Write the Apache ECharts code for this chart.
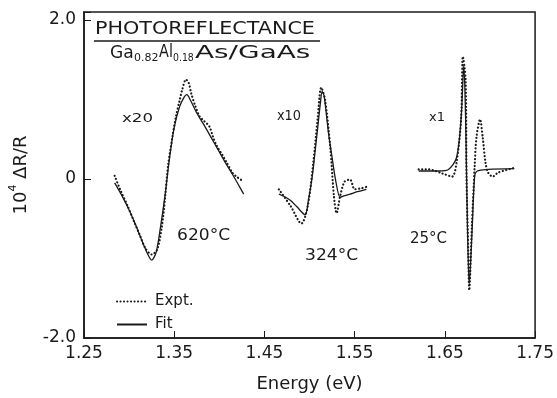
<!DOCTYPE html>
<html>
<head>
<meta charset="utf-8">
<script src="https://cdn.jsdelivr.net/npm/echarts@6/dist/echarts.min.js"></script>
<style>
  html, body { margin: 0; padding: 0; background: #fff; }
  #chart { width: 557px; height: 398px; }
</style>
</head>
<body>
<div id="chart"></div>
<script>
// 620°C (x20)
const fit620E = [1.284, 1.292, 1.300, 1.307, 1.314, 1.320, 1.325, 1.330, 1.335, 1.340, 1.345, 1.350, 1.356, 1.361, 1.364, 1.368, 1.375, 1.383, 1.391, 1.399, 1.407, 1.415, 1.421, 1.427]
const fit620Y = [-0.05, -0.21, -0.39, -0.57, -0.77, -0.93, -1.02, -0.92, -0.59, -0.19, 0.28, 0.65, 0.91, 1.03, 1.06, 0.99, 0.83, 0.68, 0.52, 0.36, 0.20, 0.05, -0.07, -0.19]
const exp620E = [1.284, 1.290, 1.298, 1.306, 1.312, 1.318, 1.325, 1.331, 1.336, 1.340, 1.343, 1.348, 1.352, 1.356, 1.359, 1.363, 1.366, 1.369, 1.373, 1.378, 1.383, 1.389, 1.393, 1.397, 1.403, 1.408, 1.415, 1.419, 1.424]
const exp620Y = [0.04, -0.13, -0.33, -0.55, -0.71, -0.87, -0.95, -0.89, -0.62, -0.22, 0.15, 0.53, 0.79, 0.99, 1.13, 1.25, 1.21, 1.07, 0.93, 0.79, 0.73, 0.66, 0.53, 0.42, 0.31, 0.21, 0.07, 0.03, -0.01]

// 324°C (x10)
const fit324E = [1.466, 1.472, 1.479, 1.486, 1.495, 1.499, 1.503, 1.506, 1.509, 1.512, 1.514, 1.516, 1.518, 1.521, 1.525, 1.529, 1.534, 1.539, 1.545, 1.553, 1.563]
const fit324Y = [-0.19, -0.22, -0.27, -0.35, -0.45, -0.25, 0.03, 0.33, 0.64, 0.95, 1.10, 1.05, 0.88, 0.58, 0.27, -0.02, -0.23, -0.21, -0.19, -0.16, -0.13]
const exp324E = [1.466, 1.479, 1.491, 1.498, 1.504, 1.509, 1.513, 1.517, 1.523, 1.527, 1.530, 1.534, 1.539, 1.545, 1.550, 1.556, 1.563]
const exp324Y = [-0.13, -0.34, -0.56, -0.34, 0.19, 0.76, 1.15, 1.01, 0.40, -0.21, -0.43, -0.21, -0.03, -0.01, -0.13, -0.12, -0.10]

// 25°C (x1)
const fit25E = [1.621, 1.643, 1.654, 1.663, 1.668, 1.671, 1.673, 1.675, 1.677, 1.680, 1.683, 1.686, 1.698, 1.727]
const fit25Y = [0.10, 0.10, 0.12, 0.27, 0.76, 1.43, 0.76, -0.58, -1.32, -0.70, 0.03, 0.10, 0.12, 0.13]
const exp25E = [1.621, 1.632, 1.647, 1.658, 1.663, 1.668, 1.670, 1.673, 1.674, 1.676, 1.677, 1.680, 1.683, 1.685, 1.689, 1.692, 1.695, 1.698, 1.703, 1.709, 1.727]
const exp25Y = [0.12, 0.12, 0.07, 0.03, 0.21, 0.76, 1.54, 1.25, 0.03, -0.95, -1.40, -0.58, 0.15, 0.52, 0.75, 0.52, 0.21, 0.08, 0.03, 0.08, 0.14]

const xTicks = ['1.25', '1.35', '1.45', '1.55', '1.65', '1.75']

const E0 = 1.25   // axis runs in (E - E0) so the ticks land on 1.25, 1.35 ...
const pairs = (xs, ys) => xs.map((x, i) => [+(x - E0).toFixed(4), ys[i]])

const ink = '#1a1a1a'
const font = 'DejaVu Sans'

const chart = echarts.init(document.getElementById('chart'))

const fitStyle = { color: ink, width: 1.3 }
const expStyle = { color: ink, width: 2.2, type: [0.1, 3.4], cap: 'round' }

function fitSeries(xs, ys) {
  return { name: 'Fit', type: 'line', data: pairs(xs, ys), smooth: 0.3, symbol: 'none', color: ink, lineStyle: fitStyle, z: 3 }
}
function expSeries(xs, ys) {
  return { name: 'Expt.', type: 'line', data: pairs(xs, ys), smooth: 0.3, symbol: 'none', color: ink, lineStyle: expStyle, z: 2 }
}

// plain text placed in pixels, stretched a little like the original lettering
function label(text, left, top, size, sx) {
  return {
    type: 'text', left, top, scaleX: sx || 1,
    style: { text, font: size + 'px "DejaVu Sans"', fill: ink }
  }
}

const option = {
  animation: false,
  backgroundColor: '#fff',
  textStyle: { fontFamily: font, color: ink },
  grid: { left: 82, right: 20, top: 12, bottom: 53, show: true, borderColor: ink, borderWidth: 1.5 },
  legend: {
    orient: 'vertical',
    left: 111,
    top: 289,
    itemWidth: 30,
    itemHeight: 12,
    itemGap: 8,
    data: ['Expt.', 'Fit'],
    itemStyle: { opacity: 0 },
    textStyle: { fontFamily: font, fontSize: 15, color: ink, padding: [0, 0, 0, 3] }
  },
  xAxis: {
    type: 'value',
    min: 0,
    max: 0.5,
    interval: 0.1,
    name: 'Energy (eV)',
    nameLocation: 'middle',
    nameGap: 37,
    nameTextStyle: { fontFamily: font, fontSize: 18, color: ink },
    axisLine: { show: true, onZero: false, lineStyle: { color: ink, width: 1.5 } },
    axisTick: { show: true, inside: true, length: 7, lineStyle: { color: ink } },
    axisLabel: {
      fontFamily: font, fontSize: 17, color: ink, margin: 7,
      formatter: (v) => xTicks[Math.round(v * 10)]
    },
    splitLine: { show: false }
  },
  yAxis: {
    type: 'value',
    min: -2,
    max: 2.1,
    interval: 2,
    name: '{n|10}{s|4}{n| ΔR/R}',
    nameLocation: 'middle',
    nameGap: 54,
    nameTextStyle: {
      rich: {
        n: { fontFamily: font, fontSize: 18, color: ink, verticalAlign: 'bottom', lineHeight: 22 },
        s: { fontFamily: font, fontSize: 11, color: ink, verticalAlign: 'top', lineHeight: 22 }
      }
    },
    axisLine: { show: true, lineStyle: { color: ink, width: 1.5 } },
    axisTick: { show: true, inside: true, length: 7, lineStyle: { color: ink } },
    axisLabel: {
      fontFamily: font, fontSize: 17, color: ink, margin: 8,
      formatter: (v) => (v === 0 ? '0' : Math.abs(v) === 2 ? v.toFixed(1) : '')
    },
    splitLine: { show: false }
  },
  graphic: [
    label('PHOTOREFLECTANCE', 95, 20, 18, 1.15),
    { type: 'line', shape: { x1: 94, y1: 41, x2: 320, y2: 41 }, style: { stroke: ink, lineWidth: 1.3 } },
    label('Ga', 110, 44, 18, 0.95),
    label('0.82', 134, 53, 11, 1.0),
    label('Al', 159, 44, 17, 0.85),
    label('0.18', 173, 53, 11, 0.85),
    label('As/GaAs', 195, 44, 18, 1.55),
    label('x20', 122, 112, 13, 1.28),
    label('620°C', 177, 229, 15, 1.14),
    label('x10', 277, 109, 14, 0.92),
    label('324°C', 305, 249, 15, 1.14),
    label('x1', 429, 111, 13, 1.0),
    label('25°C', 410, 232, 15, 1.0)
  ],
  series: [
    expSeries(exp620E, exp620Y),
    fitSeries(fit620E, fit620Y),
    expSeries(exp324E, exp324Y),
    fitSeries(fit324E, fit324Y),
    expSeries(exp25E, exp25Y),
    fitSeries(fit25E, fit25Y)
  ]
}

chart.setOption(option)
</script>
</body>
</html>
